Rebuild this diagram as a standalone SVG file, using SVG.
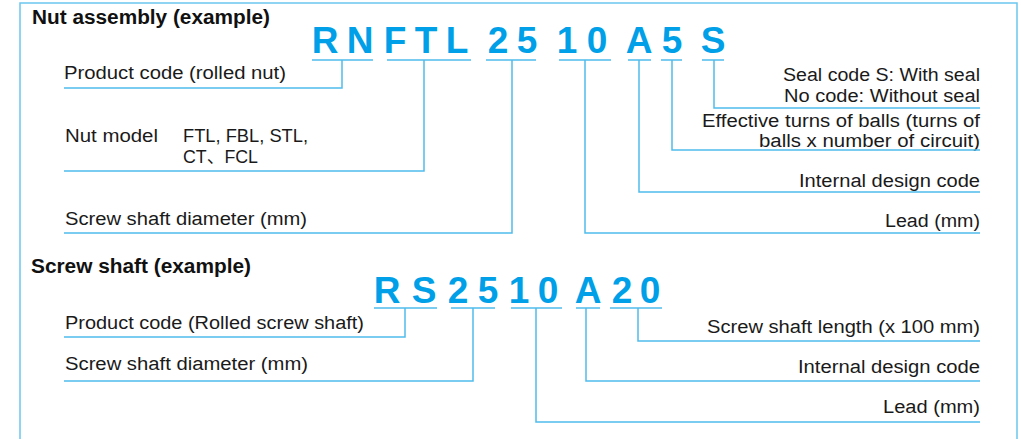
<svg xmlns="http://www.w3.org/2000/svg" width="1021" height="439" viewBox="0 0 1021 439">
<style>
.frame{fill:none;stroke:#6cc6ef;stroke-width:1.5}
.ln{fill:none;stroke:#4fbcec;stroke-width:1.5}
.t{font-family:"Liberation Sans","Noto Sans CJK JP",sans-serif;font-size:18px;fill:#1a1a1a}
.r{text-anchor:end}
.h{font-family:"Liberation Sans",sans-serif;font-size:20px;font-weight:bold;fill:#111}
.c{font-family:"Liberation Sans",sans-serif;font-size:37px;font-weight:bold;fill:#00a0e9;text-anchor:middle}
</style>
<rect width="1021" height="439" fill="#fff"/>
<path class="frame" d="M20,440 V3 H1017 V440"/>

<g id="title-nut"><text class="h" x="32" y="24" textLength="238" lengthAdjust="spacingAndGlyphs">Nut assembly (example)</text></g>
<g id="code-nut">
<text class="c" x="325" y="53">R</text><text class="c" x="360" y="53">N</text>
<text class="c" x="395" y="53">F</text><text class="c" x="426" y="53">T</text><text class="c" x="457" y="53">L</text>
<text class="c" x="498" y="53">2</text><text class="c" x="527" y="53">5</text>
<text class="c" x="567" y="53">1</text><text class="c" x="597" y="53">0</text>
<text class="c" x="639" y="53">A</text><text class="c" x="672" y="53">5</text>
<text class="c" x="713" y="53">S</text>
</g>
<g id="n-product"><text class="t" x="64" y="79" textLength="222" lengthAdjust="spacingAndGlyphs">Product code (rolled nut)</text></g>
<g id="n-model">
<text class="t" x="65" y="142" textLength="93" lengthAdjust="spacingAndGlyphs">Nut model</text>
<text class="t" x="183" y="142" textLength="125" lengthAdjust="spacingAndGlyphs">FTL, FBL, STL,</text>
<text class="t" x="183" y="163" textLength="75" lengthAdjust="spacingAndGlyphs">CT、FCL</text>
</g>
<g id="n-diameter"><text class="t" x="65" y="225" textLength="242" lengthAdjust="spacingAndGlyphs">Screw shaft diameter (mm)</text></g>
<g id="n-seal">
<text class="t r" x="980" y="81" textLength="197" lengthAdjust="spacingAndGlyphs">Seal code S: With seal</text>
<text class="t r" x="980" y="102" textLength="196" lengthAdjust="spacingAndGlyphs">No code: Without seal</text>
</g>
<g id="n-turns">
<text class="t r" x="980" y="127" textLength="278" lengthAdjust="spacingAndGlyphs">Effective turns of balls (turns of</text>
<text class="t r" x="980" y="147" textLength="221" lengthAdjust="spacingAndGlyphs">balls x number of circuit)</text>
</g>
<g id="n-internal"><text class="t r" x="980" y="187" textLength="181" lengthAdjust="spacingAndGlyphs">Internal design code</text></g>
<g id="n-lead"><text class="t r" x="980" y="227" textLength="95" lengthAdjust="spacingAndGlyphs">Lead (mm)</text></g>

<g id="title-shaft"><text class="h" x="31" y="273" textLength="220" lengthAdjust="spacingAndGlyphs">Screw shaft (example)</text></g>
<g id="code-shaft">
<text class="c" x="387" y="303">R</text><text class="c" x="424" y="303">S</text>
<text class="c" x="458" y="303">2</text><text class="c" x="488" y="303">5</text>
<text class="c" x="519" y="303">1</text><text class="c" x="548" y="303">0</text>
<text class="c" x="588" y="303">A</text>
<text class="c" x="622" y="303">2</text><text class="c" x="650" y="303">0</text>
</g>
<g id="s-product"><text class="t" x="65" y="329" textLength="299" lengthAdjust="spacingAndGlyphs">Product code (Rolled screw shaft)</text></g>
<g id="s-diameter"><text class="t" x="65" y="370" textLength="243" lengthAdjust="spacingAndGlyphs">Screw shaft diameter (mm)</text></g>
<g id="s-length"><text class="t r" x="980" y="333" textLength="273" lengthAdjust="spacingAndGlyphs">Screw shaft length (x 100 mm)</text></g>
<g id="s-internal"><text class="t r" x="980" y="373" textLength="182" lengthAdjust="spacingAndGlyphs">Internal design code</text></g>
<g id="s-lead"><text class="t r" x="980" y="413" textLength="97" lengthAdjust="spacingAndGlyphs">Lead (mm)</text></g>

<g id="connectors">
<path class="ln" d="M312,60 H373 M342,60 V88 H64"/>
<path class="ln" d="M387,60 H471 M424,60 V171 H64"/>
<path class="ln" d="M486,60 H536 M512,60 V233 H64"/>
<path class="ln" d="M559,60 H611 M585,60 V233 H980"/>
<path class="ln" d="M628,60 H651 M639,60 V192 H980"/>
<path class="ln" d="M661,60 H682 M672,60 V150 H980"/>
<path class="ln" d="M702,60 H724 M714,60 V108 H980"/>
<path class="ln" d="M374,308 H437 M405,308 V337 H64"/>
<path class="ln" d="M451,308 H495 M473,308 V381 H64"/>
<path class="ln" d="M511,308 H562 M536,308 V422 H980"/>
<path class="ln" d="M576,308 H600 M586,308 V381 H980"/>
<path class="ln" d="M610,308 H662 M638,308 V341 H980"/>
</g>
</svg>
